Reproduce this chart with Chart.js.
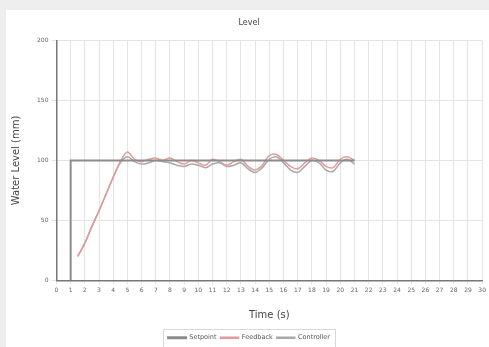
<!DOCTYPE html>
<html>
<head>
<meta charset="utf-8">
<script src="https://cdn.jsdelivr.net/npm/chart.js@4"></script>
<style>
  html, body { margin: 0; padding: 0; background: #eeeeee; }
  #panel { position: absolute; left: 6px; top: 10px; width: 483px; height: 337px; background: #ffffff; }
  #chart { display: block; }
</style>
</head>
<body>
<div id="panel"><canvas id="chart" width="483" height="337"></canvas></div>
<script>
// ── DATA ──────────────────────────────────────────────────────────────────────
const timeSec = [1, 1.5, 2, 2.5, 3, 3.5, 4, 4.5, 5, 5.5, 6, 6.5, 7, 7.5, 8, 8.5, 9, 9.5, 10, 10.5,
                 11, 11.5, 12, 12.5, 13, 13.5, 14, 14.5, 15, 15.5, 16, 16.5, 17, 17.5, 18, 18.5, 19, 19.5, 20, 20.5, 21];
const feedbackLevel = [null, 20, 31, 45, 58, 72, 86, 99, 107, 101, 99, 101, 102, 100, 102, 99, 97, 100, 98, 96,
                       101, 99, 96, 99, 101, 95, 92, 96, 104, 105, 100, 95, 93, 98, 102, 100, 95, 94, 101, 103, 100];
const controllerLevel = [null, 20, 31, 45, 58, 72, 86, 98, 103, 99, 97, 98, 100, 99, 98, 96, 95, 97, 96, 94,
                         97, 98, 95, 96, 98, 93, 90, 94, 101, 103, 98, 92, 90, 95, 100, 98, 92, 91, 98, 101, 97];
const setpointTime  = [1, 1, 21];
const setpointLevel = [0, 100, 100];
const xTicks = { min: 0, max: 30, step: 1 };
const yTicks = { min: 0, max: 200, step: 50 };

const toPoints = (xs, ys) => xs.map((x, i) => ({ x: x, y: ys[i] }));

// ── LEGEND FRAME (only round the items) ───────────────────────────────────────
const legendFrame = {
    id: 'legendFrame',
    afterDraw(chart) {
        const lg = chart.legend;
        if (!lg || !lg.legendHitBoxes || !lg.legendHitBoxes.length) return;
        const boxes = lg.legendHitBoxes;
        const left  = Math.min(...boxes.map(b => b.left)) - 5;
        const right = Math.max(...boxes.map(b => b.left + b.width)) + 5;
        const top   = Math.min(...boxes.map(b => b.top)) - 6;
        const bot   = Math.max(...boxes.map(b => b.top + b.height)) + 8;
        const c = chart.ctx;
        c.save();
        c.strokeStyle = '#d8d8d8';
        c.lineWidth = 1;
        c.strokeRect(Math.round(left) + 0.5, Math.round(top) + 0.5, Math.round(right - left), Math.round(bot - top));
        c.restore();
    }
};

// ── CHART ─────────────────────────────────────────────────────────────────────
new Chart(document.getElementById('chart').getContext('2d'), {
    type: 'line',
    data: {
        datasets: [
            {
                label: 'Setpoint',
                data: toPoints(setpointTime, setpointLevel),
                borderColor: '#8c8c8c', backgroundColor: '#8c8c8c',
                borderWidth: 2, pointRadius: 0, tension: 0
            },
            {
                label: 'Feedback',
                data: toPoints(timeSec, feedbackLevel),
                borderColor: '#e49a9a', backgroundColor: '#e49a9a',
                borderWidth: 1.5, pointRadius: 0, tension: 0.35
            },
            {
                label: 'Controller',
                data: toPoints(timeSec, controllerLevel),
                borderColor: '#a8a8a8', backgroundColor: '#a8a8a8',
                borderWidth: 1.5, pointRadius: 0, tension: 0.35
            }
        ]
    },
    options: {
        responsive: false, animation: false,
        layout: { padding: { left: 4, right: 1, top: 2, bottom: -4 } },
        plugins: {
            title: { display: true, text: 'Level', color: '#444', font: { family: 'DejaVu Sans', size: 8, weight: 'normal' }, padding: { top: 6, bottom: 13 } },
            legend: {
                position: 'bottom',
                labels: { boxWidth: 18, boxHeight: 1, color: '#555', font: { family: 'DejaVu Sans', size: 6.5 }, padding: 4 }
            },
            tooltip: { enabled: false }
        },
        scales: {
            x: {
                type: 'linear', min: xTicks.min, max: xTicks.max,
                ticks: { stepSize: xTicks.step, color: '#666', font: { family: 'DejaVu Sans', size: 6 }, maxRotation: 0, autoSkip: false },
                grid: { color: '#e4e4e4', tickLength: 4 },
                border: { color: '#777', width: 1.5 },
                title: { display: true, text: 'Time (s)', color: '#444', font: { family: 'DejaVu Sans', size: 10 }, padding: { top: 12, bottom: 9 } }
            },
            y: {
                min: yTicks.min, max: yTicks.max,
                ticks: { stepSize: yTicks.step, color: '#666', font: { family: 'DejaVu Sans', size: 6 } },
                grid: { color: '#e4e4e4', tickLength: 5 },
                border: { color: '#777', width: 1.5 },
                title: { display: true, text: 'Water Level (mm)', color: '#444', font: { family: 'DejaVu Sans', size: 10 }, padding: { top: 0, bottom: 12 } }
            }
        }
    },
    plugins: [legendFrame]
});
</script>
</body>
</html>
